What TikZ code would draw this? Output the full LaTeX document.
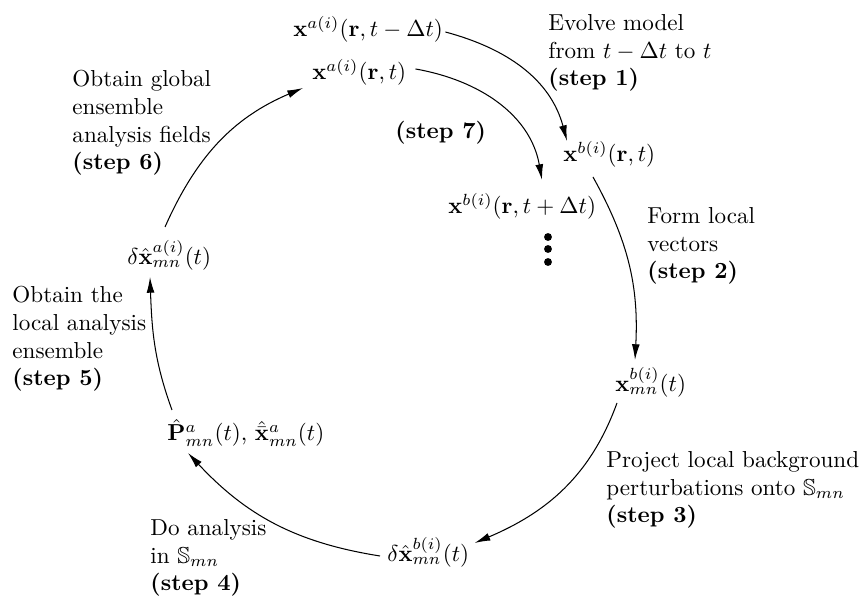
\documentclass[tikz,border=0pt]{standalone}
\usepackage{amsmath,amssymb}
\usetikzlibrary{arrows.meta,calc}
\begin{document}
\begin{tikzpicture}[x=0.433pt,y=-0.433pt,
  mathnode/.style={inner sep=0pt,anchor=base west},
  txt/.style={inner sep=0pt,anchor=north west,align=left},
  conn/.style={line width=0.45pt,-{Latex[length=6.8pt,width=3.4pt]}}]
\useasboundingbox (0,0) rectangle (859,596);

\node[mathnode] (xam) at (293,37) {$\mathbf{x}^{a(i)}(\mathbf{r},t-\Delta t)$};
\node[mathnode] (xat) at (312,80) {$\mathbf{x}^{a(i)}(\mathbf{r},t)$};
\node[mathnode] (s7) at (395,139) {\textbf{(step 7)}};
\node[mathnode] (xbt) at (563,162) {$\mathbf{x}^{b(i)}(\mathbf{r},t)$};
\node[mathnode] (xbdt) at (448,214) {$\mathbf{x}^{b(i)}(\mathbf{r},t+\Delta t)$};
\node[mathnode] (xmn) at (615,392) {$\mathbf{x}^{b(i)}_{mn}(t)$};
\node[mathnode] (dxb) at (387,562) {$\delta\hat{\mathbf{x}}^{b(i)}_{mn}(t)$};
\node[mathnode] (pa) at (167,441) {$\hat{\mathbf{P}}^{a}_{mn}(t)$, $\hat{\bar{\mathbf{x}}}^{a}_{mn}(t)$};
\node[mathnode] (dxa) at (127,265) {$\delta\hat{\mathbf{x}}^{a(i)}_{mn}(t)$};

\node[txt] (t1) at (548,14) {Evolve model\\from $t-\Delta t$ to $t$\\\textbf{(step 1)}};
\node[txt] (t2) at (647,207) {Form local\\vectors\\\textbf{(step 2)}};
\node[txt] (t3) at (606,451) {Project local background\\perturbations onto $\mathbb{S}_{mn}$\\\textbf{(step 3)}};
\node[txt] (t4) at (150,519) {Do analysis\\in $\mathbb{S}_{mn}$\\\textbf{(step 4)}};
\node[txt] (t5) at (12,286) {Obtain the\\local analysis\\ensemble\\\textbf{(step 5)}};
\node[txt] (t6) at (72,70) {Obtain global\\ensemble\\analysis fields\\\textbf{(step 6)}};

\foreach \yy in {237,249,262} \fill (548,\yy) circle[radius=1.7pt];

\draw[conn] ($(xam.base east)+(2,-5)$) to[out=-15,in=105] ($(xbt.base west)+(4,-21)$);
\draw[conn] ($(xat.base east)+(9,-11)$) to[out=-10,in=100] ($(xbdt.base west)+(94,-34)$);
\draw[conn] ($(xbt.base west)+(30,15)$) to[out=-61,in=87] ($(xmn.base west)+(20,-32)$);
\draw[conn] ($(xmn.base west)+(2,11)$) to[out=-110,in=23] ($(dxb.base east)+(5,-19)$);
\draw[conn] ($(dxb.base west)+(-7,-6)$) to[out=171,in=-47] ($(pa.base west)+(21,12)$);
\draw[conn] ($(pa.base west)+(5,-31)$) to[out=110,in=-88] ($(dxa.base west)+(23,12)$);
\draw[conn] ($(dxa.base west)+(38,-38)$) to[out=66,in=-157] ($(xat.base west)+(-9,8)$);
\end{tikzpicture}
\end{document}
